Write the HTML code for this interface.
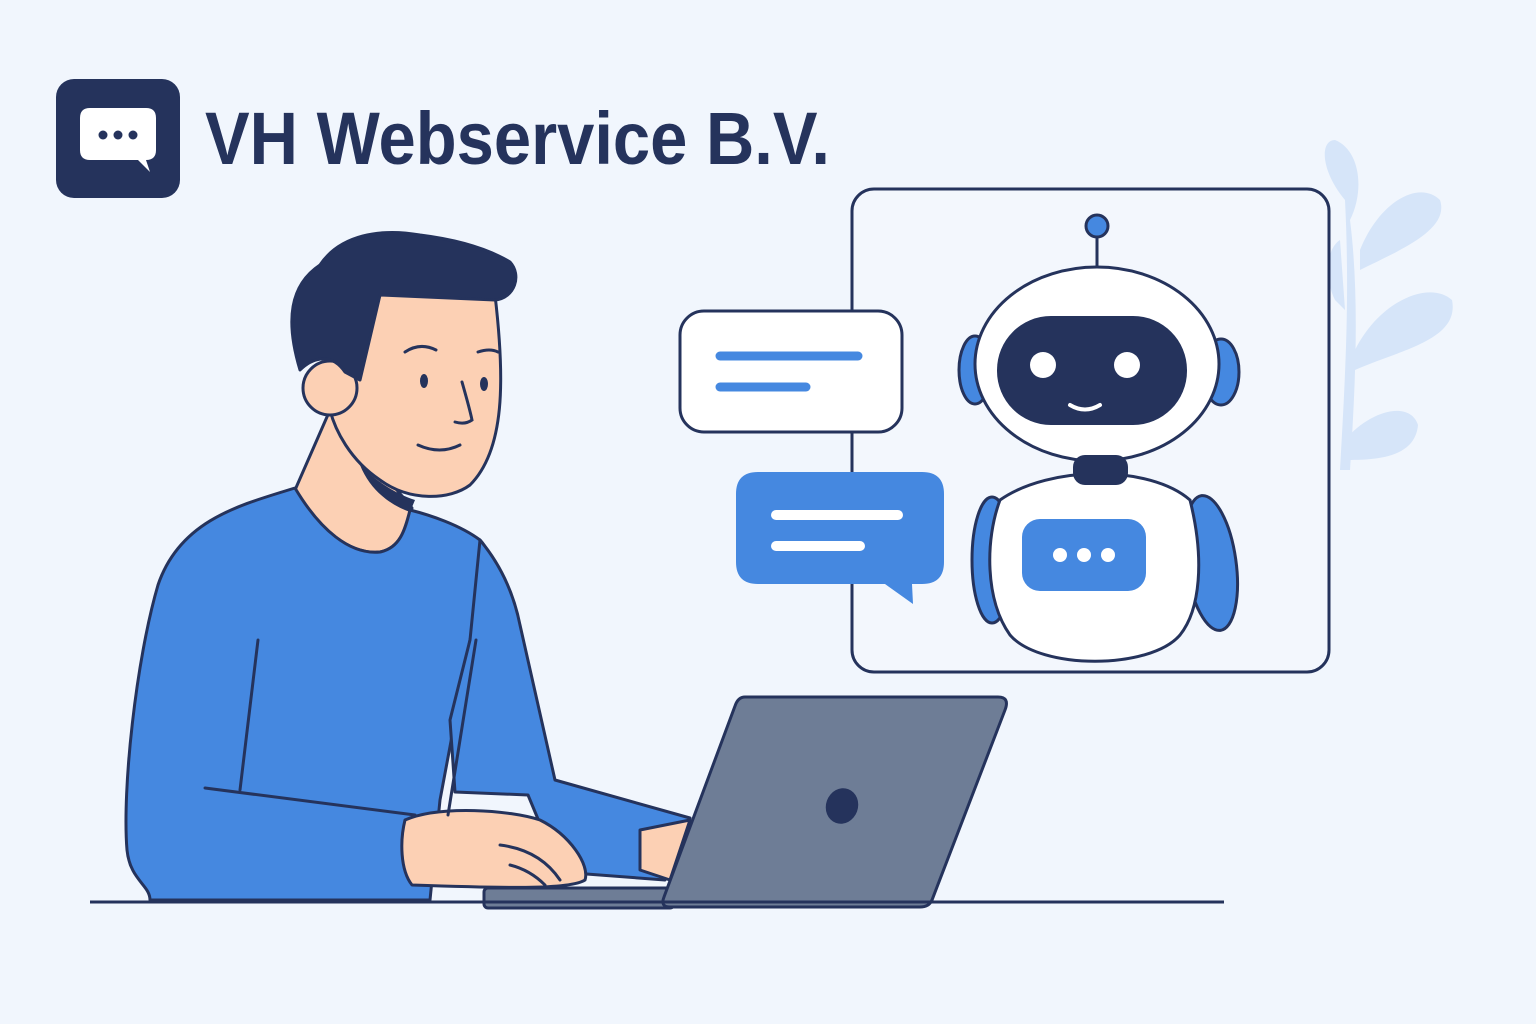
<!DOCTYPE html>
<html><head><meta charset="utf-8"><style>
html,body{margin:0;padding:0;background:#f1f6fd;}
svg{display:block}
</style></head><body>
<svg width="1536" height="1024" viewBox="0 0 1536 1024" xmlns="http://www.w3.org/2000/svg">
<rect width="1536" height="1024" fill="#f1f6fd"/>
<!-- plant -->
<g fill="#d6e5f9">
<path d="M1340,470 C1345,380 1350,300 1345,200 C1320,170 1320,140 1335,140 C1360,150 1365,190 1350,220 C1360,300 1355,390 1350,470 Z"/>
<path d="M1360,250 C1380,200 1420,180 1440,200 C1450,230 1400,250 1360,270 Z"/>
<path d="M1355,350 C1380,300 1430,280 1452,300 C1460,340 1400,350 1355,370 Z"/>
<path d="M1345,440 C1370,410 1410,400 1418,425 C1415,460 1370,460 1345,460 Z"/>
<path d="M1335,300 C1325,280 1325,250 1340,240 L1345,310 Z"/>
</g>
<!-- logo -->
<rect x="56" y="79" width="124" height="119" rx="18" fill="#25335c"/>
<path d="M90,108 L146,108 Q156,108 156,118 L156,150 Q156,160 146,160 L150,172 L138,160 L90,160 Q80,160 80,150 L80,118 Q80,108 90,108 Z" fill="#fff"/>
<circle cx="103" cy="135" r="4.5" fill="#25335c"/><circle cx="118" cy="135" r="4.5" fill="#25335c"/><circle cx="133" cy="135" r="4.5" fill="#25335c"/>
<text x="205" y="164" font-family="Liberation Sans, sans-serif" font-weight="bold" font-size="74" fill="#25335c" textLength="625" lengthAdjust="spacingAndGlyphs">VH Webservice B.V.</text>
<!-- frame -->
<rect x="852" y="189" width="477" height="483" rx="22" fill="#f3f7fd" stroke="#25335c" stroke-width="3"/>
<!-- bubbles -->
<rect x="680" y="311" width="222" height="121" rx="24" fill="#fff" stroke="#25335c" stroke-width="3"/>
<line x1="720" y1="356" x2="858" y2="356" stroke="#4588e0" stroke-width="9" stroke-linecap="round"/>
<line x1="720" y1="387" x2="806" y2="387" stroke="#4588e0" stroke-width="9" stroke-linecap="round"/>
<path d="M758,472 L922,472 Q944,472 944,494 L944,562 Q944,584 922,584 L912,584 L913,604 L885,584 L758,584 Q736,584 736,562 L736,494 Q736,472 758,472 Z" fill="#4588e0"/>
<line x1="776" y1="515" x2="898" y2="515" stroke="#fff" stroke-width="10" stroke-linecap="round"/>
<line x1="776" y1="546" x2="860" y2="546" stroke="#fff" stroke-width="10" stroke-linecap="round"/>
<!-- robot -->
<g stroke="#25335c" stroke-width="3">
<line x1="1097" y1="236" x2="1097" y2="270"/>
<circle cx="1097" cy="226" r="11" fill="#4588e0"/>
<ellipse cx="975" cy="370" rx="16" ry="34" fill="#4588e0"/>
<ellipse cx="1221" cy="372" rx="18" ry="33" fill="#4588e0"/>
<ellipse cx="1097" cy="364" rx="122" ry="97" fill="#fff"/>
<ellipse cx="992" cy="560" rx="20" ry="63" fill="#4588e0"/>
<ellipse cx="1211" cy="563" rx="25" ry="68" fill="#4588e0" transform="rotate(-8 1211 563)"/>
<path d="M1000,500 C1050,465 1150,465 1190,500 C1205,560 1200,610 1180,635 C1150,670 1040,670 1010,635 C985,600 985,540 1000,500 Z" fill="#fff"/>
</g>
<rect x="997" y="316" width="190" height="109" rx="54" fill="#25335c"/>
<circle cx="1043" cy="365" r="13" fill="#fff"/><circle cx="1127" cy="365" r="13" fill="#fff"/>
<path d="M1070,405 Q1085,414 1100,405" stroke="#fff" stroke-width="4" fill="none" stroke-linecap="round"/>
<rect x="1073" y="455" width="55" height="30" rx="12" fill="#25335c"/>
<rect x="1022" y="519" width="124" height="72" rx="18" fill="#4588e0"/>
<circle cx="1060" cy="555" r="7" fill="#fff"/><circle cx="1084" cy="555" r="7" fill="#fff"/><circle cx="1108" cy="555" r="7" fill="#fff"/>
<!-- person -->
<g stroke="#25335c" stroke-width="3" stroke-linejoin="round">
<path d="M330,410 L295,490 C320,530 350,555 380,552 C400,548 405,530 412,508 Z" fill="#fcd0b4"/>
<path d="M295,488 C240,505 180,520 158,585 C136,660 122,790 127,850 C130,880 150,885 150,900 L430,900 L440,800 L470,640 C480,600 500,560 480,540 C460,525 430,515 410,510 C405,530 400,548 380,552 C350,555 320,530 295,488 Z" fill="#4588e0"/>
<path d="M480,540 C505,570 515,600 520,625 L555,780 L690,818 L665,880 L560,872 L528,795 L455,792 L450,720 L470,640 Z" fill="#4588e0"/>
<path d="M330,290 L495,295 C505,380 505,450 470,485 C450,500 410,502 380,480 C350,460 335,430 330,410 Z" fill="#fcd0b4"/>
<circle cx="330" cy="388" r="27" fill="#fcd0b4"/>
<path d="M300,370 C285,320 290,285 320,265 C340,235 380,228 420,235 C460,240 490,250 510,262 C522,275 515,298 495,300 L380,295 L360,380 L345,372 C330,350 310,360 300,370 Z" fill="#25335c"/>
<path d="M405,820 C440,805 510,810 540,820 C570,835 590,865 585,880 C570,890 500,888 412,885 C400,870 400,840 405,820 Z" fill="#fcd0b4"/>
<path d="M640,830 L690,820 L670,880 L640,870 Z" fill="#fcd0b4"/>
</g>
<path d="M360,465 C380,485 400,495 415,500 L410,512 C390,505 370,490 360,465 Z" fill="#25335c"/>
<ellipse cx="424" cy="381" rx="4" ry="7" fill="#25335c"/><ellipse cx="484" cy="384" rx="4" ry="7" fill="#25335c"/>
<g stroke="#25335c" stroke-width="3" fill="none" stroke-linecap="round">
<path d="M405,352 Q420,342 436,350"/><path d="M478,352 Q490,348 498,352"/>
<path d="M462,382 Q470,410 472,420 Q465,425 455,422"/>
<path d="M418,445 Q440,455 460,445"/>
<path d="M258,640 L240,790"/><path d="M476,640 L448,815"/>
<path d="M205,788 L415,815"/>
<path d="M500,845 Q540,850 560,880"/><path d="M510,865 Q530,870 545,885"/>
</g>
<!-- laptop -->
<rect x="484" y="888" width="190" height="20" rx="4" fill="#6e7d96" stroke="#25335c" stroke-width="3"/>
<path d="M745,697 L998,697 Q1010,697 1005,710 L932,900 Q929,907 920,907 L670,907 Q660,907 664,897 L735,706 Q738,697 745,697 Z" fill="#6e7d96" stroke="#25335c" stroke-width="3"/>
<ellipse cx="842" cy="806" rx="16" ry="18" fill="#25335c" transform="rotate(20 842 806)"/>
<line x1="90" y1="902" x2="1224" y2="902" stroke="#25335c" stroke-width="3"/>
</svg>
</body></html>
